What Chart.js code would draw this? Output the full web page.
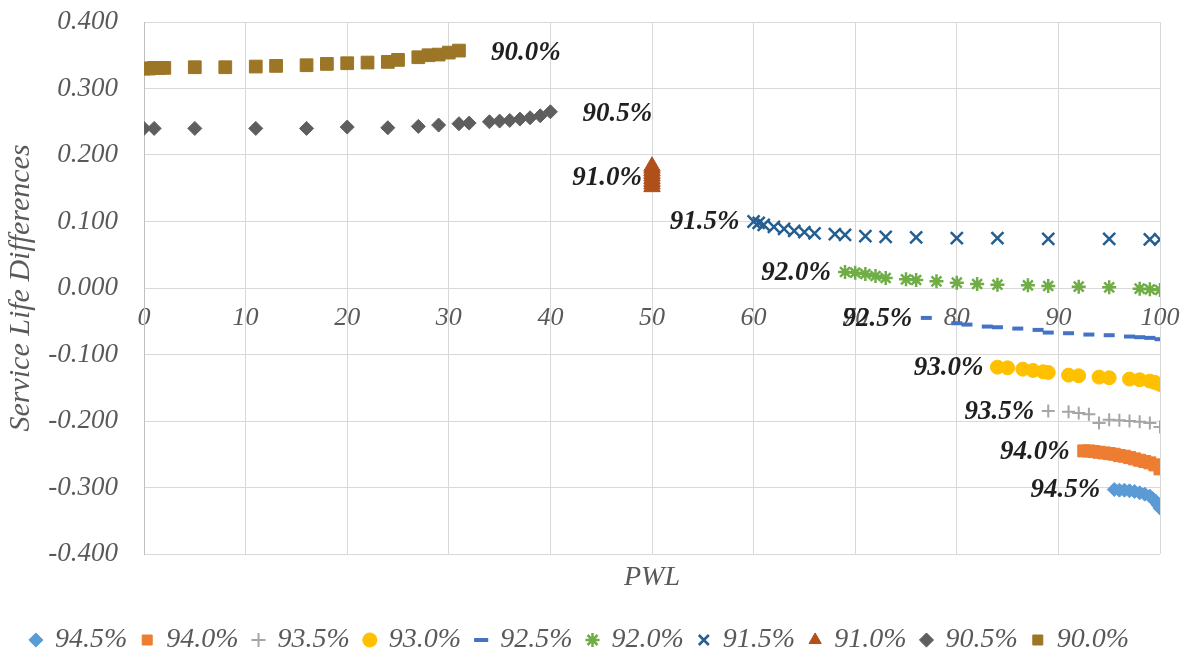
<!DOCTYPE html>
<html>
<head>
<meta charset="utf-8">
<title>Service Life Differences vs PWL</title>
<script src="https://cdn.jsdelivr.net/npm/chart.js@4.4.1/dist/chart.umd.min.js"></script>
<style>
  html, body { margin: 0; padding: 0; background: #fff; }
</style>
</head>
<body>
<canvas id="myChart" width="1188" height="666"></canvas>
<script>
// series names, legend order
var names = ['94.5%', '94.0%', '93.5%', '93.0%', '92.5%', '92.0%', '91.5%', '91.0%', '90.5%', '90.0%'];

// PWL (x) and service life differences (y)
var pwl945 = [95.5, 96, 96.5, 97, 97.5, 98, 98.5, 99, 99.3, 99.6, 99.8, 100];
var val945 = [-0.303, -0.304, -0.304, -0.305, -0.306, -0.308, -0.310, -0.313, -0.317, -0.321, -0.326, -0.331];

var pwl940 = [92.5, 93, 93.5, 94, 94.5, 95, 95.5, 96, 96.5, 97, 97.5, 98, 98.5, 99, 99.5, 100];
var val940 = [-0.245, -0.245, -0.246, -0.247, -0.248, -0.249, -0.250, -0.252, -0.253, -0.255, -0.257, -0.259, -0.261, -0.263, -0.266, -0.272];

var pwl935 = [89, 91, 92, 93, 94, 95, 96, 97, 98, 99, 100];
var val935 = [-0.185, -0.186, -0.188, -0.190, -0.203, -0.198, -0.199, -0.200, -0.201, -0.203, -0.209];

var pwl930 = [84, 85, 86.5, 87.5, 88.5, 89, 91, 92, 94, 95, 97, 98, 99, 99.5, 100];
var val930 = [-0.119, -0.120, -0.122, -0.124, -0.126, -0.127, -0.131, -0.132, -0.134, -0.135, -0.137, -0.138, -0.140, -0.142, -0.145];

var pwl925 = [77, 80, 81, 83, 84, 86, 88, 89, 91, 93, 95, 97, 98, 99, 100];
var val925 = [-0.045, -0.053, -0.055, -0.058, -0.059, -0.061, -0.063, -0.067, -0.068, -0.070, -0.071, -0.073, -0.074, -0.075, -0.077];

var pwl920 = [69, 70, 71, 72, 73, 75, 76, 78, 80, 82, 84, 87, 89, 92, 95, 98, 99, 100];
var val920 = [0.024, 0.023, 0.021, 0.018, 0.015, 0.013, 0.012, 0.010, 0.008, 0.006, 0.005, 0.004, 0.003, 0.002, 0.001, -0.001, -0.002, -0.003];

var pwl915 = [60, 60.5, 61, 62, 63, 64, 65, 66, 68, 69, 71, 73, 76, 80, 84, 89, 95, 99, 100];
var val915 = [0.100, 0.098, 0.095, 0.092, 0.089, 0.086, 0.084, 0.082, 0.081, 0.080, 0.078, 0.077, 0.076, 0.075, 0.075, 0.074, 0.074, 0.073, 0.073];

var pwl910 = [50, 50, 50, 50, 50, 50, 50, 50, 50];
var val910 = [0.152, 0.156, 0.160, 0.164, 0.168, 0.172, 0.176, 0.180, 0.183];

var pwl905 = [0, 1, 5, 11, 16, 20, 24, 27, 29, 31, 32, 34, 35, 36, 37, 38, 39, 40];
var val905 = [0.240, 0.240, 0.240, 0.240, 0.240, 0.242, 0.241, 0.243, 0.245, 0.247, 0.248, 0.250, 0.251, 0.252, 0.254, 0.256, 0.259, 0.265];

var pwl900 = [0, 0.5, 1, 1.5, 2, 5, 8, 11, 13, 16, 18, 20, 22, 24, 25, 27, 28, 29, 30, 31];
var val900 = [0.330, 0.330, 0.331, 0.331, 0.331, 0.332, 0.332, 0.333, 0.334, 0.335, 0.337, 0.338, 0.339, 0.340, 0.343, 0.347, 0.350, 0.351, 0.354, 0.357];

var xMin = 0, xMax = 100, xStep = 10;
var yMin = -0.4, yMax = 0.4, yStep = 0.1;

var allX = [pwl945, pwl940, pwl935, pwl930, pwl925, pwl920, pwl915, pwl910, pwl905, pwl900];
var allY = [val945, val940, val935, val930, val925, val920, val915, val910, val905, val900];

// marker looks
var colors = ['#5B9BD5', '#ED7D31', '#A5A5A5', '#FFC000', '#4472C4', '#70AD47', '#255E91', '#B0501A', '#5E5E5E', '#9C7626'];
var shapes = ['rectRot', 'rect', 'cross', 'circle', 'line', 'star', 'crossRot', 'triangle', 'rectRot', 'rect'];
var sizes = [7, 8.5, 6.5, 7, 5.5, 7, 8.5, 9.5, 7, 9];
var widths = [1, 1, 2, 1, 4, 2.5, 2.5, 1, 1, 1];
// where the bold name goes: left of first point, right of last one, or beside the middle one
var labelSide = ['left', 'left', 'left', 'left', 'left', 'left', 'left', 'mid', 'right', 'right'];

var serif = '"Liberation Serif", "Times New Roman", serif';
var grey = '#595959';

var datasets = [];
for (var i = 0; i < names.length; i++) {
    var pts = [];
    for (var k = 0; k < allX[i].length; k++) {
        pts.push({ x: allX[i][k], y: allY[i][k] });
    }
    datasets.push({
        label: names[i],
        data: pts,
        pointStyle: shapes[i],
        pointRadius: sizes[i],
        pointHoverRadius: sizes[i],
        backgroundColor: colors[i],
        borderColor: colors[i],
        borderWidth: widths[i],
        showLine: false
    });
}

var seriesLabels = {
    id: 'seriesLabels',
    afterDatasetsDraw: function (chart) {
        var ctx = chart.ctx;
        ctx.save();
        ctx.font = 'italic bold 27px ' + serif;
        ctx.fillStyle = '#1f1f1f';
        ctx.textBaseline = 'middle';
        chart.data.datasets.forEach(function (ds, i) {
            var pts = chart.getDatasetMeta(i).data;
            var p;
            if (labelSide[i] == 'right') {
                p = pts[pts.length - 1];
                ctx.textAlign = 'left';
                ctx.fillText(ds.label, p.x + 32, p.y + 2);
            } else if (labelSide[i] == 'mid') {
                p = pts[Math.floor(pts.length / 2)];
                ctx.textAlign = 'right';
                ctx.fillText(ds.label, p.x - 10, p.y + 2);
            } else {
                p = pts[0];
                ctx.textAlign = 'right';
                ctx.fillText(ds.label, p.x - 14, p.y + 1);
            }
        });
        ctx.restore();
    }
};

var ctx = document.getElementById('myChart').getContext('2d');
var myChart = new Chart(ctx, {
    type: 'scatter',
    data: { datasets: datasets },
    plugins: [seriesLabels],
    options: {
        responsive: false,
        animation: false,
        devicePixelRatio: 1,
        layout: { padding: { top: 22, right: 28, left: 0, bottom: 2 } },
        plugins: {
            tooltip: { enabled: false },
            legend: {
                position: 'bottom',
                labels: {
                    usePointStyle: true,
                    boxWidth: 10,
                    boxHeight: 10,
                    padding: 15,
                    color: grey,
                    font: { family: serif, size: 28, style: 'italic' }
                }
            }
        },
        scales: {
            x: {
                type: 'linear',
                min: xMin,
                max: xMax,
                ticks: { display: false, stepSize: xStep },
                grid: { color: '#D9D9D9', drawTicks: false },
                border: { display: false },
                title: {
                    display: true,
                    text: 'PWL',
                    color: grey,
                    font: { family: serif, size: 28, style: 'italic' },
                    padding: { top: 0, bottom: 17 }
                },
                afterFit: function (scale) { scale.height = 57; }
            },
            x2: {
                type: 'linear',
                axis: 'x',
                position: { y: 0 },
                min: xMin,
                max: xMax,
                ticks: {
                    stepSize: xStep,
                    autoSkip: false,
                    maxRotation: 0,
                    padding: 7,
                    color: grey,
                    font: { family: serif, size: 26, style: 'italic' }
                },
                grid: { display: false },
                border: { display: false }
            },
            y: {
                type: 'linear',
                min: yMin,
                max: yMax,
                ticks: {
                    stepSize: yStep,
                    padding: 26,
                    color: grey,
                    font: { family: serif, size: 27, style: 'italic' },
                    callback: function (v) { return v.toFixed(3); }
                },
                grid: { color: '#D9D9D9', drawTicks: false },
                border: { color: '#BFBFBF' },
                title: {
                    display: true,
                    text: 'Service Life Differences',
                    color: grey,
                    font: { family: serif, size: 30, style: 'italic' },
                    padding: { top: 3, bottom: 0 }
                },
                afterFit: function (scale) {
                    scale.width = 144;
                    // tick padding should not push the plot down
                    scale.paddingTop = 0;
                    scale.paddingBottom = 0;
                }
            }
        }
    }
});
</script>
</body>
</html>
